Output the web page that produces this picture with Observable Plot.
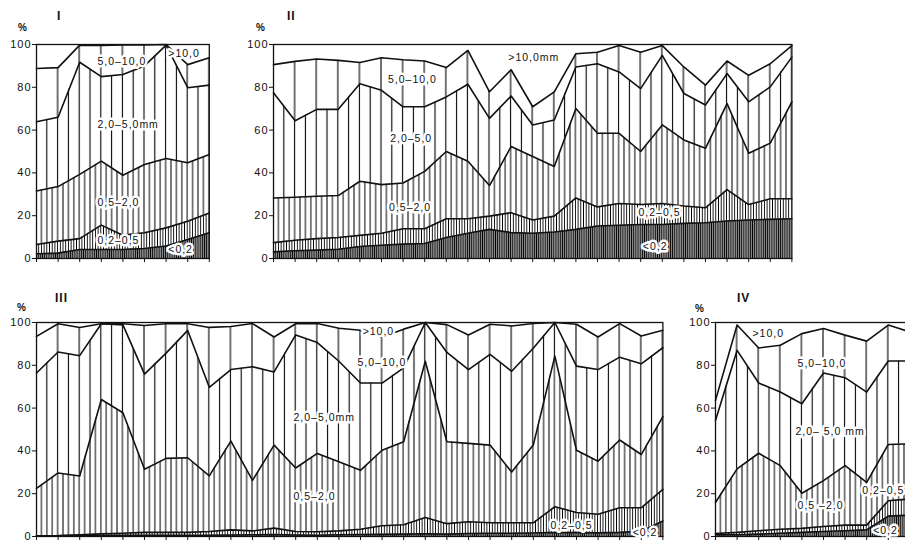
<!DOCTYPE html>
<html>
<head>
<meta charset="utf-8">
<script src="https://cdn.jsdelivr.net/npm/d3@7"></script>
<script src="https://cdn.jsdelivr.net/npm/@observablehq/plot@0.6"></script>
<style>
  html, body { margin: 0; padding: 0; background: #fff; overflow: hidden; }
  #page { position: relative; width: 905px; height: 541px; overflow: hidden; background: #fff;
          font-family: "Liberation Sans", Arial, sans-serif; color: #111; }
  .panel { position: absolute; }
  .title { position: absolute; font-weight: bold; font-size: 12px; letter-spacing: 1px; }
  .pct { position: absolute; font-weight: bold; font-size: 10px; }
  svg text { letter-spacing: 1px; paint-order: stroke; }
</style>
</head>
<body>
<div id="page"></div>
<script>
// ---------- DATA: cumulative % finer than each grain size, per sample ----------
// Panel I
const p1_c02 = [2.2, 2.5, 4.2, 4.2, 4.2, 4.7, 5.8, 8.9, 12.0];
const p1_c05 = [6.5, 8.1, 9.3, 15.6, 10.9, 12.0, 14.3, 17.4, 21.3];
const p1_c2  = [31.5, 33.6, 39.3, 45.5, 38.9, 43.9, 46.7, 44.7, 48.6];
const p1_c5  = [63.9, 66.0, 91.7, 85.0, 86.0, 90.0, 99.7, 79.8, 81.0];
const p1_c10 = [88.8, 89.2, 99.7, 99.5, 99.8, 99.8, 100, 90.6, 93.8];

// Panel II
const p2_c02 = [3.1, 3.6, 3.9, 4.3, 5.6, 6.2, 6.7, 7.0, 9.8, 11.8, 13.6, 12.1, 11.8, 12.4, 13.6, 15.2, 15.5, 15.9, 15.9, 16.4, 16.7, 17.5, 18.0, 18.3, 18.6];
const p2_c05 = [7.4, 8.5, 9.3, 9.8, 10.8, 11.8, 13.9, 13.9, 18.6, 18.6, 19.8, 21.4, 18.0, 19.8, 28.3, 24.1, 25.7, 25.2, 25.7, 24.5, 23.7, 32.2, 25.2, 27.9, 27.9];
const p2_c2  = [28.3, 28.6, 29.1, 29.4, 36.1, 34.5, 35.3, 40.7, 50.0, 45.4, 34.1, 52.3, 47.7, 43.0, 70.1, 58.5, 58.5, 50.0, 62.4, 55.4, 51.5, 72.4, 49.2, 53.9, 73.2];
const p2_c5  = [77.4, 64.4, 69.7, 69.7, 81.7, 78.6, 70.9, 70.9, 75.5, 81.4, 65.5, 75.9, 62.4, 64.7, 89.5, 91.0, 87.2, 79.4, 94.9, 77.1, 71.7, 86.4, 73.2, 80.2, 94.1];
const p2_c10 = [90.6, 92.1, 93.2, 92.6, 91.6, 93.8, 92.9, 92.3, 89.2, 97.2, 77.9, 88.2, 70.9, 77.9, 95.7, 96.4, 99.5, 96.4, 99.5, 89.5, 81.0, 92.3, 85.6, 91.0, 99.5];

// Panel III
const p3_c02 = [0.3, 0.3, 0.4, 0.4, 0.5, 0.6, 0.6, 0.5, 0.6, 0.7, 0.8, 0.9, 0.7, 0.6, 0.8, 0.9, 1.0, 1.1, 1.3, 1.1, 1.4, 1.5, 1.5, 1.6, 1.9, 1.8, 1.7, 1.9, 2.4, 7.2];
const p3_c05 = [0.3, 0.4, 0.8, 1.2, 1.5, 1.9, 1.9, 1.9, 2.3, 3.1, 2.6, 3.9, 2.3, 2.2, 2.6, 3.4, 5.0, 5.5, 8.9, 6.0, 6.9, 6.4, 6.4, 6.4, 13.9, 11.2, 10.4, 13.4, 13.4, 22.0];
const p3_c2  = [22.5, 29.7, 28.3, 64.0, 57.8, 31.4, 36.5, 36.8, 28.3, 44.6, 26.2, 42.7, 32.0, 38.8, 34.9, 30.9, 40.3, 44.3, 81.9, 44.3, 43.5, 42.7, 30.1, 42.7, 84.3, 40.3, 35.2, 45.1, 38.3, 56.0];
const p3_c5  = [76.4, 86.2, 84.5, 99.4, 98.9, 75.9, 85.7, 96.3, 69.7, 78.0, 79.3, 76.9, 94.2, 90.6, 81.9, 71.7, 71.7, 78.8, 100, 86.0, 78.0, 85.1, 77.2, 88.0, 100, 79.6, 78.0, 83.8, 80.7, 88.2];
const p3_c10 = [93.5, 99.4, 97.7, 99.4, 99.4, 98.6, 99.4, 99.4, 97.7, 98.1, 99.5, 93.2, 99.4, 99.5, 97.3, 96.4, 93.2, 96.9, 100, 99.0, 94.2, 99.2, 98.4, 99.5, 100, 99.2, 93.2, 99.5, 93.7, 96.4];

// Panel IV
const p4_c02 = [0.8, 0.8, 1.1, 1.5, 1.9, 2.3, 2.7, 3.1, 9.5, 10.0];
const p4_c05 = [1.4, 1.9, 2.7, 3.4, 3.8, 4.7, 5.3, 5.3, 16.7, 17.5];
const p4_c2  = [15.9, 31.6, 38.9, 33.1, 20.2, 26.1, 33.1, 25.3, 43.0, 43.3];
const p4_c5  = [54.2, 87.0, 71.7, 67.5, 62.0, 76.4, 74.2, 67.5, 82.0, 82.0];
const p4_c10 = [63.6, 98.8, 88.1, 89.4, 94.8, 97.2, 94.1, 91.3, 98.8, 95.6];

// Class labels (x = sample index, y = %)
const p1_labels = [
  {text: "5,0–10,0", x: 2.82, y: 92}, {text: "2,0–5,0mm", x: 2.82, y: 62.6},
  {text: "0,5–2,0", x: 2.82, y: 26.2}, {text: "0,2–0,5", x: 2.82, y: 8.4},
  {text: "<0,2", x: 6.1, y: 4.2}, {text: ">10,0", x: 6.1, y: 95.8}
];
const p2_labels = [
  {text: ">10,0mm", x: 10.87, y: 94}, {text: "5,0–10,0", x: 5.3, y: 83.7},
  {text: "2,0–5,0", x: 5.4, y: 55.8}, {text: "0,5–2,0", x: 5.35, y: 23.7},
  {text: "0,2–0,5", x: 16.9, y: 21.4}, {text: "<0,2", x: 17.1, y: 5.6}
];
const p3_labels = [
  {text: ">10,0", x: 15.1, y: 95.8}, {text: "5,0–10,0", x: 14.86, y: 81.3},
  {text: "2,0–5,0mm", x: 11.9, y: 55.6}, {text: "0,5–2,0", x: 11.9, y: 18.7},
  {text: "0,2–0,5", x: 23.8, y: 5.1}, {text: "<0,2", x: 27.6, y: 1.6}
];
const p4_labels = [
  {text: ">10,0", x: 1.71, y: 94.8}, {text: "5,0–10,0", x: 3.8, y: 80.8},
  {text: "2,0– 5,0 mm", x: 3.7, y: 48.8}, {text: "0,5 –2,0", x: 3.8, y: 14.6},
  {text: "0,2–0,5", x: 6.8, y: 21.5}, {text: "<0,2", x: 7.3, y: 2.8}
];
const yTicks = [0, 20, 40, 60, 80, 100];

// ---------- LAYOUT ----------
const STEP = 21.6, ML = 40, MR = 8, MT = 6, MB = 10, PH = 214;
const panels = [
  {id: "I",   c02: p1_c02, c05: p1_c05, c2: p1_c2, c5: p1_c5, c10: p1_c10, labels: p1_labels,
   left: 36 - ML, top: 43.5 - MT, title: [57, 9], pct: [18, 22]},
  {id: "II",  c02: p2_c02, c05: p2_c05, c2: p2_c2, c5: p2_c5, c10: p2_c10, labels: p2_labels,
   left: 272.7 - ML, top: 44 - MT, title: [287, 9], pct: [256, 22]},
  {id: "III", c02: p3_c02, c05: p3_c05, c2: p3_c2, c5: p3_c5, c10: p3_c10, labels: p3_labels,
   left: 36 - ML, top: 322 - MT, title: [55, 291], pct: [17, 302]},
  {id: "IV",  c02: p4_c02, c05: p4_c05, c2: p4_c2, c5: p4_c5, c10: p4_c10, labels: p4_labels,
   left: 715 - ML, top: 321.5 - MT, title: [737, 291], pct: [695, 303]}
];

// hatch spacing per layer (from finest fraction upwards)
const hatch = [
  {w: STEP / 10, sw: 1.4, c: "#000"},
  {w: STEP / 8,  sw: 0.9, c: "#000"},
  {w: STEP / 4,  sw: 1.0, c: "#000"},
  {w: STEP / 2,  sw: 1.1, c: "#000"},
  {w: STEP,      sw: 1.1, c: "#000"}
];

const page = document.getElementById("page");

panels.forEach((p, pi) => {
  const n = p.c02.length;
  const rows = d3.range(n).map(i => ({
    i, b0: 0, b1: p.c02[i], b2: p.c05[i], b3: p.c2[i], b4: p.c5[i], b5: p.c10[i]
  }));
  const uid = "hp" + pi;
  const bounds = ["b0", "b1", "b2", "b3", "b4", "b5"];
  const chart = Plot.plot({
    width: ML + (n - 1) * STEP + MR,
    height: MT + PH + MB,
    marginLeft: ML, marginRight: MR, marginTop: MT, marginBottom: MB,
    style: {fontFamily: '"Liberation Sans", Arial, sans-serif', fontSize: "11px", color: "#111", background: "transparent", overflow: "visible"},
    x: {domain: [0, n - 1], ticks: d3.range(n), tickFormat: () => "", tickSize: 4, label: null},
    y: {domain: [0, 100], ticks: yTicks, tickSize: 4, tickPadding: 1, label: null},
    marks: [
      ...hatch.map((h, j) => Plot.areaY(rows, {x: "i", y1: bounds[j], y2: bounds[j + 1], fill: `url(#${uid}-${j})`})),
      ...bounds.slice(1).map(b => Plot.lineY(rows, {x: "i", y: b, stroke: "#111", strokeWidth: 1.6})),
      Plot.frame({stroke: "#111", strokeWidth: 1.3}),
      Plot.text(p.labels, {x: "x", y: "y", text: "text", textAnchor: "start", fontSize: 10.5,
        fill: "#111", stroke: "white", strokeWidth: 5})
    ]
  });
  const defs = d3.select(chart).insert("defs", ":first-child");
  hatch.forEach((h, j) => {
    const pat = defs.append("pattern")
      .attr("id", `${uid}-${j}`)
      .attr("patternUnits", "userSpaceOnUse")
      .attr("width", h.w).attr("height", 20)
      .attr("patternTransform", `translate(${ML - h.w / 2},0)`);
    pat.append("rect")
      .attr("x", h.w / 2 - h.sw / 2).attr("y", 0)
      .attr("width", h.sw).attr("height", 20)
      .attr("fill", h.c);
  });
  chart.classList.add("panel");
  chart.style.left = p.left + "px";
  chart.style.top = p.top + "px";
  page.appendChild(chart);

  const t = document.createElement("div");
  t.className = "title"; t.textContent = p.id;
  t.style.left = p.title[0] + "px"; t.style.top = p.title[1] + "px";
  page.appendChild(t);
  const pc = document.createElement("div");
  pc.className = "pct"; pc.textContent = "%";
  pc.style.left = p.pct[0] + "px"; pc.style.top = p.pct[1] + "px";
  page.appendChild(pc);
});
</script>
</body>
</html>
